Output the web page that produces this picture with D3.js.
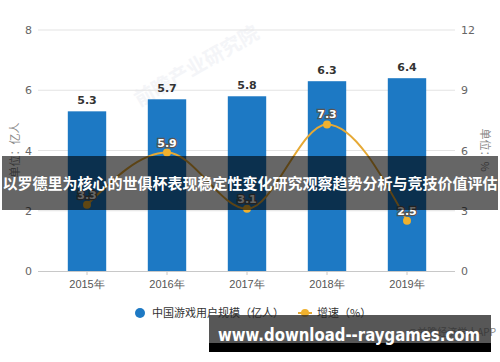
<!DOCTYPE html>
<html>
<head>
<meta charset="utf-8">
<script src="https://d3js.org/d3.v7.min.js"></script>
<style>
  body { margin: 0; background: #fff; }
  svg { display: block; font-family: "Noto Sans CJK SC", "DejaVu Sans", sans-serif; }
</style>
</head>
<body>
<div class="chart"></div>
<script>
  // data
  const years = ['2015年', '2016年', '2017年', '2018年', '2019年'];
  const users = [5.3, 5.7, 5.8, 6.3, 6.4];     // 中国游戏用户规模（亿人）
  const growth = [3.3, 5.9, 3.1, 7.3, 2.5];    // 增速（%）
  const leftTicks = [0, 2, 4, 6, 8];
  const rightTicks = [0, 3, 6, 9, 12];

  const W = 500, H = 362;
  const svg = d3.select('.chart').append('svg')
    .attr('width', W)
    .attr('height', H);

  const plotTop = 30, plotBottom = 271;
  const x = d3.scaleBand().domain(years).range([47, 447]).paddingInner(0.52).paddingOuter(0.26);
  const yL = d3.scaleLinear().domain([0, 8]).range([plotBottom, plotTop]);
  const yR = d3.scaleLinear().domain([0, 12]).range([plotBottom, plotTop]);

  // watermark
  svg.append('text')
    .attr('transform', 'translate(200,72) rotate(-30)')
    .attr('text-anchor', 'middle')
    .attr('font-size', 20)
    .attr('font-weight', 'bold')
    .attr('fill', '#f4f5f8')
    .text('前瞻产业研究院');

  // grid lines
  svg.append('g').selectAll('line')
    .data(leftTicks.slice(1))
    .enter().append('line')
    .attr('x1', 38).attr('x2', 455)
    .attr('y1', d => yL(d)).attr('y2', d => yL(d))
    .attr('stroke', '#e3e3e3');

  // left axis
  const axL = svg.append('g')
    .attr('transform', 'translate(38,0)')
    .call(d3.axisLeft(yL).tickValues(leftTicks).tickSize(0).tickPadding(6));
  axL.select('.domain').remove();
  axL.selectAll('text').attr('font-size', 11).attr('fill', '#666').attr('font-family', 'DejaVu Sans, sans-serif');

  // right axis
  const axR = svg.append('g')
    .attr('transform', 'translate(455,0)')
    .call(d3.axisRight(yR).tickValues(rightTicks).tickSize(0).tickPadding(6));
  axR.select('.domain').remove();
  axR.selectAll('text').attr('font-size', 11).attr('fill', '#666').attr('font-family', 'DejaVu Sans, sans-serif');

  // axis titles
  svg.append('text')
    .attr('transform', 'translate(19,150) rotate(-90)')
    .attr('text-anchor', 'middle')
    .attr('font-size', 11)
    .attr('fill', '#888')
    .text('单位：亿人');
  svg.append('text')
    .attr('transform', 'translate(481,150) rotate(90)')
    .attr('text-anchor', 'middle')
    .attr('font-size', 11)
    .attr('fill', '#888')
    .text('单位：%');

  // bars
  svg.append('g').selectAll('rect')
    .data(users)
    .enter().append('rect')
    .attr('x', (d, i) => x(years[i]))
    .attr('y', d => yL(d))
    .attr('width', x.bandwidth())
    .attr('height', d => plotBottom - yL(d))
    .attr('fill', '#1d79c4');

  svg.append('g').selectAll('text')
    .data(users)
    .enter().append('text')
    .attr('x', (d, i) => x(years[i]) + x.bandwidth() / 2)
    .attr('y', d => yL(d) - 7)
    .attr('text-anchor', 'middle')
    .attr('font-size', 11)
    .attr('font-weight', 'bold')
    .attr('font-family', 'DejaVu Sans, sans-serif')
    .attr('fill', '#333')
    .text(d => d.toFixed(1));

  // x axis
  const axX = svg.append('g')
    .attr('transform', 'translate(0,' + plotBottom + ')')
    .call(d3.axisBottom(x).tickSize(4).tickPadding(5));
  axX.select('.domain').attr('d', 'M38,0.5H455').attr('stroke', '#c8c8c8');
  axX.selectAll('.tick line').attr('stroke', '#c8c8c8');
  axX.selectAll('text').attr('font-size', 11).attr('fill', '#555');

  // growth line
  const cx = (d, i) => x(years[i]) + x.bandwidth() / 2;
  const line = d3.line().x(cx).y(d => yR(d)).curve(d3.curveMonotoneX);
  svg.append('path')
    .datum(growth)
    .attr('d', line)
    .attr('fill', 'none')
    .attr('stroke', '#e6a935')
    .attr('stroke-width', 2);

  svg.append('g').selectAll('circle')
    .data(growth)
    .enter().append('circle')
    .attr('cx', cx)
    .attr('cy', d => yR(d))
    .attr('r', 4)
    .attr('fill', '#f0b12e');

  svg.append('g').selectAll('text')
    .data(growth)
    .enter().append('text')
    .attr('x', cx)
    .attr('y', d => yR(d) - 6)
    .attr('text-anchor', 'middle')
    .attr('font-size', 11)
    .attr('font-weight', 'bold')
    .attr('font-family', 'DejaVu Sans, sans-serif')
    .attr('fill', '#fff')
    .attr('stroke', '#555')
    .attr('stroke-width', 2.5)
    .attr('paint-order', 'stroke')
    .text(d => d.toFixed(1));

  // legend
  const lg = svg.append('g').attr('font-size', 11).attr('fill', '#333');
  lg.append('circle').attr('cx', 140).attr('cy', 313).attr('r', 5).attr('fill', '#1d79c4');
  lg.append('text').attr('x', 152).attr('y', 317).text('中国游戏用户规模（亿人）');
  lg.append('line').attr('x1', 298).attr('x2', 312).attr('y1', 313).attr('y2', 313)
    .attr('stroke', '#e6a935').attr('stroke-width', 2);
  lg.append('circle').attr('cx', 305).attr('cy', 313).attr('r', 4).attr('fill', '#f0b12e');
  lg.append('text').attr('x', 317).attr('y', 317).text('增速（%）');

  // source
  svg.append('text')
    .attr('x', 496).attr('y', 336)
    .attr('text-anchor', 'end')
    .attr('font-size', 10)
    .attr('fill', '#888')
    .text('@前瞻经济学人APP');

  // title banner
  svg.append('rect')
    .attr('x', 2).attr('y', 156).attr('width', 496).attr('height', 54)
    .attr('fill', 'rgba(0,0,0,0.6)');
  svg.append('text')
    .attr('x', 250).attr('y', 189)
    .attr('text-anchor', 'middle')
    .attr('font-size', 15)
    .attr('font-weight', 'bold')
    .attr('fill', '#fff')
    .text('以罗德里为核心的世俱杯表现稳定性变化研究观察趋势分析与竞技价值评估');

  // site banner
  svg.append('rect')
    .attr('x', 209).attr('y', 315).attr('width', 282).attr('height', 28)
    .attr('fill', 'rgba(40,40,40,0.78)');
  svg.append('rect')
    .attr('x', 209).attr('y', 343).attr('width', 282).attr('height', 9)
    .attr('fill', '#000');
  svg.append('text')
    .attr('x', 218).attr('y', 341)
    .attr('font-size', 17)
    .attr('font-weight', 'bold')
    .attr('font-family', 'DejaVu Sans, sans-serif')
    .attr('fill', '#fff')
    .attr('textLength', 262)
    .attr('lengthAdjust', 'spacingAndGlyphs')
    .text('www.download--raygames.com');
</script>
</body>
</html>
